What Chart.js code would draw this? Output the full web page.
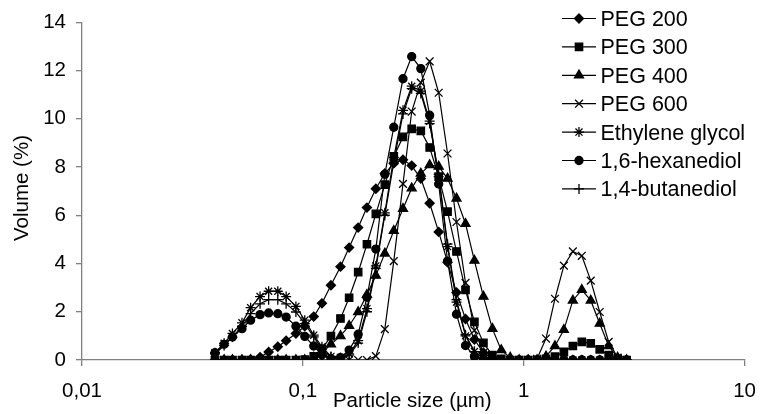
<!DOCTYPE html>
<html>
<head>
<meta charset="utf-8">
<script src="https://cdn.jsdelivr.net/npm/chart.js@4.4.0/dist/chart.umd.min.js"></script>
<style>
  body { margin: 0; background: #fff; }
  canvas { display: block; }
</style>
</head>
<body>
<canvas id="psd" width="769" height="414"></canvas>
<script>
// particle size classes (µm)
const sizes = [0.04, 0.044, 0.048, 0.053, 0.058, 0.064, 0.070, 0.077, 0.084, 0.093,
  0.102, 0.112, 0.122, 0.134, 0.148, 0.162, 0.178, 0.195, 0.214, 0.235,
  0.258, 0.284, 0.311, 0.342, 0.375, 0.412, 0.452, 0.496, 0.545, 0.598,
  0.657, 0.721, 0.791, 0.869, 0.953, 1.047, 1.149, 1.261, 1.385, 1.520,
  1.669, 1.832, 2.011, 2.208, 2.424, 2.661, 2.921];

const peg200 = [0, 0, 0, 0, 0.02, 0.12, 0.33, 0.55, 0.8, 1.1,
  1.4, 1.8, 2.35, 3.1, 3.87, 4.66, 5.49, 6.32, 7.1, 7.73,
  8.15, 8.3, 8.06, 7.52, 6.5, 5.31, 4.05, 2.8, 1.7, 0.85,
  0.3, 0.08, 0, 0, 0, 0, 0, 0, 0, 0,
  0, 0, 0, 0, 0, 0, 0];
const peg300 = [0, 0, 0, 0, 0, 0, 0, 0, 0, 0,
  0.02, 0.15, 0.45, 0.99, 1.72, 2.58, 3.64, 4.8, 6.06, 7.27,
  8.44, 9.25, 9.58, 9.5, 8.81, 7.6, 6.15, 4.5, 2.9, 1.58,
  0.71, 0.2, 0.05, 0, 0, 0, 0, 0.05, 0.14, 0.34,
  0.58, 0.75, 0.69, 0.44, 0.2, 0.05, 0];
const peg400 = [0, 0, 0, 0, 0, 0, 0, 0, 0, 0,
  0, 0.1, 0.3, 0.65, 1.0, 1.42, 1.99, 2.7, 3.5, 4.42,
  5.36, 6.27, 7.12, 7.73, 8.08, 8.02, 7.52, 6.7, 5.65, 4.12,
  2.63, 1.3, 0.41, 0.1, 0, 0, 0, 0.15, 0.58, 1.25,
  2.47, 2.91, 2.47, 1.51, 0.58, 0.1, 0];
const peg600 = [0, 0, 0, 0, 0, 0, 0, 0, 0, 0,
  0, 0, 0, 0, 0, 0, 0, 0, 0.16, 1.28,
  4.1, 7.3, 10.3, 11.5, 12.38, 11.08, 8.56, 5.72, 3.2, 1.23,
  0.3, 0.05, 0, 0, 0, 0, 0.05, 0.89, 2.54, 3.91,
  4.5, 4.32, 3.29, 1.99, 0.75, 0.1, 0];
const ethyleneGlycol = [0.3, 0.69, 1.1, 1.54, 2.17, 2.63, 2.85, 2.85, 2.63, 2.22,
  1.65, 1.03, 0.55, 0.15, 0.1, 0.25, 0.8, 2.13, 3.9, 6.1,
  8.4, 10.35, 11.35, 11.15, 9.9, 7.6, 4.7, 2.4, 1.0, 0.35,
  0.08, 0, 0, 0, 0, 0, 0, 0, 0, 0,
  0, 0, 0, 0, 0, 0, 0];
const hexanediol = [0.3, 0.65, 0.95, 1.3, 1.65, 1.88, 1.95, 1.92, 1.78, 1.4,
  0.98, 0.58, 0.22, 0.05, 0.1, 0.41, 1.07, 2.6, 4.6, 7.7,
  9.65, 11.66, 12.58, 12.08, 10.15, 7.3, 4.1, 1.9, 0.6, 0.15,
  0.02, 0, 0, 0, 0, 0, 0, 0, 0, 0,
  0, 0, 0, 0, 0, 0, 0];
const butanediol = [0.25, 0.6, 0.95, 1.4, 1.92, 2.33, 2.5, 2.5, 2.33, 1.99,
  1.51, 0.96, 0.45, 0.12, 0.08, 0.2, 0.7, 2.0, 3.8, 6.0,
  8.2, 10.2, 11.25, 11.05, 9.8, 7.7, 4.8, 2.5, 1.05, 0.35,
  0.08, 0, 0, 0, 0, 0, 0, 0, 0, 0,
  0, 0, 0, 0, 0, 0, 0];

const seriesNames = ['PEG 200', 'PEG 300', 'PEG 400', 'PEG 600', 'Ethylene glycol', '1,6-hexanediol', '1,4-butanediol'];
const seriesValues = [peg200, peg300, peg400, peg600, ethyleneGlycol, hexanediol, butanediol];
const markers = [
  { style: 'rectRot', r: 4.5 },
  { style: 'rect', r: 5.2 },
  { style: 'triangle', r: 5.2 },
  { style: 'crossRot', r: 5.5 },
  { style: 'star', r: 5 },
  { style: 'circle', r: 4 },
  { style: 'cross', r: 5 }
];
const xTicks = [0.01, 0.1, 1, 10];

const FONT = '"Liberation Sans", Arial, sans-serif';
const AXIS_GREY = '#808080';

const datasets = seriesNames.map((name, k) => ({
  label: name,
  data: sizes.map((s, i) => ({ x: s, y: seriesValues[k][i] })),
  borderColor: '#000',
  borderWidth: 1.2,
  backgroundColor: '#000',
  pointStyle: markers[k].style,
  pointRadius: markers[k].r,
  pointBackgroundColor: '#000',
  pointBorderColor: '#000',
  pointBorderWidth: 1.3,
  tension: 0,
  fill: false
}));

// axis titles + legend drawn inside the plot like the original
const overlay = {
  id: 'overlay',
  afterDraw(chart) {
    const ctx = chart.ctx;
    const area = chart.chartArea;
    ctx.save();
    ctx.fillStyle = '#000';
    ctx.font = '20.5px ' + FONT;
    ctx.textAlign = 'center';
    ctx.textBaseline = 'alphabetic';
    ctx.fillText('Particle size (µm)', (area.left + area.right) / 2 - 1, 407);
    ctx.translate(27.5, 188);
    ctx.rotate(-Math.PI / 2);
    ctx.fillText('Volume (%)', 0, 0);
    ctx.restore();

    ctx.save();
    ctx.font = '21.5px ' + FONT;
    ctx.textAlign = 'left';
    ctx.textBaseline = 'alphabetic';
    chart.data.datasets.forEach((ds, i) => {
      const base = 26 + i * 28.4;
      const ly = base - 7.5;
      ctx.strokeStyle = '#000';
      ctx.lineWidth = 1.2;
      ctx.beginPath();
      ctx.moveTo(562, ly);
      ctx.lineTo(596, ly);
      ctx.stroke();
      ctx.fillStyle = '#000';
      ctx.lineWidth = ds.pointBorderWidth;
      Chart.helpers.drawPoint(ctx, {
        pointStyle: ds.pointStyle,
        radius: ds.pointRadius,
        borderWidth: ds.pointBorderWidth,
        rotation: 0
      }, 579, ly);
      ctx.fillStyle = '#000';
      ctx.fillText(ds.label, 600.5, base);
    });
    ctx.restore();
  }
};

new Chart(document.getElementById('psd').getContext('2d'), {
  type: 'line',
  data: { datasets: datasets },
  options: {
    responsive: false,
    animation: false,
    devicePixelRatio: 1,
    layout: { padding: { top: 21, right: 14, bottom: 0, left: 0 } },
    plugins: {
      legend: { display: false },
      tooltip: { enabled: false }
    },
    scales: {
      x: {
        type: 'logarithmic',
        position: 'bottom',
        min: 0.01,
        max: 10,
        afterBuildTicks: (scale) => { scale.ticks = xTicks.map(v => ({ value: v })); },
        afterFit: (scale) => { scale.height = 54; },
        ticks: {
          autoSkip: false,
          maxRotation: 0,
          padding: 13,
          color: '#000',
          font: { family: FONT, size: 20.5 },
          callback: (v) => String(v).replace('.', ',')
        },
        grid: { drawOnChartArea: false, drawTicks: true, tickLength: 6, color: AXIS_GREY, lineWidth: 1.3 },
        border: { color: AXIS_GREY, width: 1.3 }
      },
      y: {
        min: 0,
        max: 14,
        afterFit: (scale) => { scale.width = 82; },
        ticks: {
          stepSize: 2,
          padding: 10,
          color: '#000',
          font: { family: FONT, size: 20.5 }
        },
        grid: { drawOnChartArea: false, drawTicks: true, tickLength: 6, color: AXIS_GREY, lineWidth: 1.3 },
        border: { color: AXIS_GREY, width: 1.3 }
      }
    }
  },
  plugins: [overlay]
});
</script>
</body>
</html>
